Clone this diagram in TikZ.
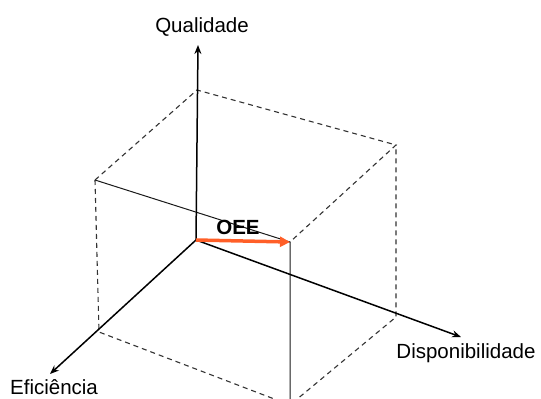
\documentclass[tikz,border=0pt]{standalone}
\usepackage{fontspec}
\setmainfont{Liberation Sans}
\usetikzlibrary{arrows.meta}
\definecolor{oeeorange}{RGB}{255,95,40}
\tikzset{
  axis/.style={line width=1.5pt,-{Stealth[length=9pt,width=7pt]}},
  edge/.style={line width=1pt,black!90},
  hidden/.style={line width=1.1pt,black!80,dash pattern=on 5pt off 4pt},
  lbl/.style={font=\fontsize{20.5}{24}\selectfont,inner sep=0pt}
}
\begin{document}
\begin{tikzpicture}[x=1pt,y=-1pt]
\useasboundingbox (0,0) rectangle (541,399);
\clip (0,0) rectangle (541,399);
% cube vertices
\coordinate (O) at (196,240);
\coordinate (TB) at (197,90);
\coordinate (TL) at (95,180);
\coordinate (TR) at (396,145);
\coordinate (TF) at (290,242);
\coordinate (BL) at (99,332);
\coordinate (BR) at (396,317);
\coordinate (BF) at (290,405);
% axis ends
\coordinate (Q) at (198,45);
\coordinate (E) at (50,374);
\coordinate (D) at (461,337);
% hidden edges
\draw[hidden] (TL) -- (TB) -- (TR) -- (TF);
\draw[hidden] (TL) -- (BL) -- (BF) -- (BR) -- (TR);
% visible edges
\draw[edge] (TL) -- (TF) -- (BF);
% axes
\draw[axis] (O) -- (Q);
\draw[axis] (O) -- (E);
\draw[axis] (O) -- (D);
% OEE arrow
\draw[line width=3.5pt,oeeorange,-{Triangle[length=10pt,width=10pt]}] (O) -- (TF);
% labels
\node[lbl] (lq) at (202,27) {Qualidade};
\node[lbl] (le) at (54,387) {Eficiência};
\node[lbl] (ld) at (466,353) {Disponibilidade};
\node[lbl,font=\fontsize{20.5}{24}\selectfont\bfseries] (loee) at (238,227) {OEE};
\end{tikzpicture}
\end{document}
